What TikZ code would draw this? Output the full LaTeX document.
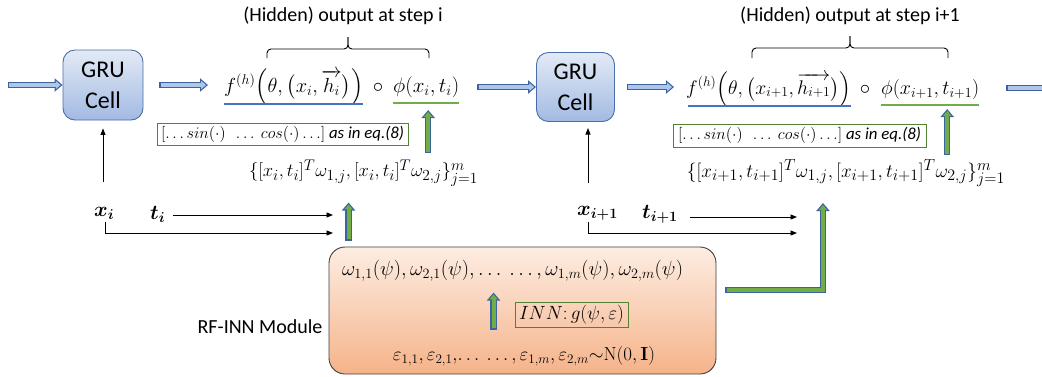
\documentclass[tikz,border=0pt]{standalone}
\usepackage{amsmath}
\usepackage{graphicx}
\usepackage[no-math]{fontspec}
\setmainfont{Carlito}
\usetikzlibrary{arrows.meta,calc}

\definecolor{grutop}{HTML}{E3EAF6}
\definecolor{grubot}{HTML}{A2BAE2}
\definecolor{gruedge}{HTML}{4A6EA9}
\definecolor{arrowedge}{HTML}{3A63A0}
\definecolor{arrowfill}{HTML}{AEC6EA}
\definecolor{gfill}{HTML}{70AD47}
\definecolor{ublue}{HTML}{4472C4}
\definecolor{ugreen}{HTML}{70AD47}
\definecolor{boxgreen}{HTML}{548235}
\definecolor{modtop}{HTML}{FDEDE2}
\definecolor{modbot}{HTML}{F5B38A}
\definecolor{modedge}{HTML}{3F3F3F}

% outlined block arrow: fill colour, path
\newcommand\blockarrow[2]{%
  \draw[line width=6.4pt, draw=arrowedge, -{Triangle[length=8pt,width=13pt]}] #2;
  \draw[line width=4pt, draw=#1, shorten <=1.2pt, shorten >=1.9pt,
        -{Triangle[length=4.9pt,width=8pt]}] #2;}
% set a formula at a given width
\newcommand\fitw[2]{\resizebox{#1}{!}{#2}}

\begin{document}
\begin{tikzpicture}[x=1pt,y=-1pt,
  lbl/.style={inner sep=0pt, font=\fontsize{20}{24}\selectfont},
  gru/.style={draw=gruedge, line width=0.9pt, rounded corners=12pt,
    top color=grutop, bottom color=grubot, align=center, inner sep=0pt,
    font=\fontsize{24}{31}\selectfont},
  mth/.style={inner sep=0pt, font=\fontsize{20}{24}\selectfont},
  varb/.style={inner sep=0pt, font=\fontsize{21}{24}\selectfont},
  greenbox/.style={draw=boxgreen, line width=0.9pt, inner sep=1pt},
  thinarrow/.style={line width=0.9pt, -{Triangle[length=6.5pt,width=5pt]}},
  brace/.style={line width=0.9pt, rounded corners=4pt},
  uline/.style={line width=1.3pt, draw=#1},
]
\useasboundingbox (0,0) rectangle (1042,376);

% ---------- RF-INN module ----------
\node[draw=modedge, line width=0.9pt, rounded corners=16pt,
      top color=modtop, bottom color=modbot,
      minimum width=387pt, minimum height=127pt] (mod) at (522.5,310.5) {};
\node[lbl] (modlbl) at (260,327) {RF-INN Module};
\node[mth] (omega) at (512.5,271)
  {\fitw{341pt}{$\omega_{1,1}(\psi),\omega_{2,1}(\psi),\ldots\ \ldots,\omega_{1,m}(\psi),\omega_{2,m}(\psi)$}};
\node[greenbox, minimum width=113pt, minimum height=25pt, font=\fontsize{19}{22}\selectfont]
  (inn) at (571.5,314.5) {\fitw{105pt}{$INN{:}\,g(\psi,\varepsilon)$}};
\node[mth] (eps) at (524,356)
  {\fitw{262pt}{$\varepsilon_{1,1},\varepsilon_{2,1},\!\ldots\ \ldots,\varepsilon_{1,m},\varepsilon_{2,m}{\sim}\mathrm{N}(0,\mathbf{I})$}};
\blockarrow{gfill}{($(mod.north west)+(165,83)$) -- ($(mod.north west)+(165,46)$)}

% ---------- step i ----------
\coordinate (in0) at (8,85);
\node[gru, minimum width=80pt, minimum height=70pt] (gru1) at (103,85) {GRU\\Cell};
\node[mth, anchor=base west] (fa1) at (224,92)
  {\fitw{139pt}{$f^{(h)}\Bigl(\theta,\bigl(x_i,\overrightarrow{h_i}\bigr)\Bigr)$}};
\node[mth, anchor=base] (o1) at (378,92) {$\circ$};
\node[mth, anchor=base west] (phi1) at (393,92) {\fitw{66pt}{$\phi(x_i,t_i)$}};
\draw[uline=ublue] ($(fa1.base west)+(0,12)$) -- ($(fa1.base east)+(0,12)$);
\draw[uline=ugreen] ($(phi1.base west)+(0,11)$) -- ($(phi1.base east)+(0,11)$);

\node[lbl] (hid1) at (343,16) {(Hidden) output at step i};
\coordinate (b1l) at (267,58);
\coordinate (b1r) at (429,58);
\coordinate (b1t) at (348,37);
\draw[brace] (b1l) -- (267,49) -- (348,49) -- (b1t);
\draw[brace] (b1r) -- (429,49) -- (348,49) -- (b1t);

\node[greenbox, minimum width=251pt, minimum height=22pt, font=\fontsize{15}{18}\selectfont]
  (sb1) at (282.5,134) {\fitw{243pt}{$[\ldots sin(\cdot)\ \ \ldots\ cos(\cdot)\ldots]$ \textit{as in eq.(8)}}};
\node[mth, font=\fontsize{19}{22}\selectfont] (feat1) at (363.5,173)
  {\fitw{229pt}{$\{[x_i,t_i]^T\omega_{1,j},[x_i,t_i]^T\omega_{2,j}\}_{j=1}^m$}};

\node[varb, anchor=west] (xi1) at (94,213) {$\boldsymbol{x}_{\boldsymbol{i}}$};
\node[varb, anchor=west] (ti1) at (150,214) {$\boldsymbol{t}_{\boldsymbol{i}}$};
\coordinate (in1t) at (333,215);
\coordinate (in1x) at (333,233);

\coordinate (gru1out) at ($(gru1.east)+(16,0)$);
\coordinate (fa1in) at ($(fa1.base west)+(-16,0)$);
\blockarrow{arrowfill}{(in0) -- (gru1.west)}
\blockarrow{arrowfill}{(gru1out) -- (fa1in |- gru1out)}
\blockarrow{gfill}{($(phi1.base)+(2,61)$) -- ($(phi1.base)+(2,18)$)}
\blockarrow{gfill}{($(mod.north west)+(20,-6)$) -- ($(mod.north west)+(20,-44)$)}
\draw[thinarrow] ($(xi1.west)+(9,-31)$) -- ($(gru1.south)+(0,8)$);
\draw[thinarrow] ($(ti1.east)+(8,1)$) -- (in1t);
\draw[thinarrow] ($(xi1.west)+(11,9)$) |- (in1x);

% ---------- step i+1 ----------
\node[gru, minimum width=78pt, minimum height=69pt] (gru2) at (575.5,87) {GRU\\Cell};
\node[mth, anchor=base west] (fa2) at (686,94)
  {\fitw{165pt}{$f^{(h)}\Bigl(\theta,\bigl(x_{i+1},\overrightarrow{h_{i+1}}\bigr)\Bigr)$}};
\node[mth, anchor=base] (o2) at (865,94) {$\circ$};
\node[mth, anchor=base west] (phi2) at (881,94) {\fitw{98pt}{$\phi(x_{i+1},t_{i+1})$}};
\draw[uline=ublue] ($(fa2.base west)+(2,12)$) -- ($(fa2.base east)+(0,12)$);
\draw[uline=ugreen] ($(phi2.base west)+(0,11)$) -- ($(phi2.base east)+(0,11)$);

\node[lbl] (hid2) at (850,16) {(Hidden) output at step i+1};
\coordinate (b2l) at (752,58);
\coordinate (b2r) at (948,58);
\coordinate (b2t) at (850,36);
\draw[brace] (b2l) -- (752,48) -- (850,48) -- (b2t);
\draw[brace] (b2r) -- (948,48) -- (850,48) -- (b2t);

\node[greenbox, minimum width=253pt, minimum height=23pt, font=\fontsize{15}{18}\selectfont]
  (sb2) at (799.5,135.5) {\fitw{243pt}{$[\ldots sin(\cdot)\ \ \ldots\ cos(\cdot)\ldots]$ \textit{as in eq.(8)}}};
\node[mth, font=\fontsize{19}{22}\selectfont] (feat2) at (846,173)
  {\fitw{318pt}{$\{[x_{i+1},t_{i+1}]^T\omega_{1,j},[x_{i+1},t_{i+1}]^T\omega_{2,j}\}_{j=1}^m$}};

\node[varb, anchor=west] (xi2) at (577,213) {$\boldsymbol{x}_{\boldsymbol{i+1}}$};
\node[varb, anchor=west] (ti2) at (642,214) {$\boldsymbol{t}_{\boldsymbol{i+1}}$};
\coordinate (in2t) at (797,217);
\coordinate (in2x) at (797,233);
\coordinate (rf2) at (823,203);
\coordinate (out2) at (1042,88);

\coordinate (phi1out) at ($(phi1.base east)+(18,0)$);
\coordinate (gru2out) at ($(gru2.east)+(12,0)$);
\coordinate (fa2in) at ($(fa2.base west)+(-12,0)$);
\coordinate (phi2out) at ($(phi2.base east)+(27,0)$);
\blockarrow{arrowfill}{(phi1out |- gru2.west) -- (gru2.west)}
\blockarrow{arrowfill}{(gru2out) -- (fa2in |- gru2out)}
\blockarrow{gfill}{($(phi2.base)+(17,61)$) -- ($(phi2.base)+(17,15)$)}
\blockarrow{gfill}{($(mod.east)+(9,-20.5)$) -| (rf2)}
\draw[line width=6.4pt, draw=arrowedge] (phi2out |- out2) -- (out2);
\draw[line width=4pt, draw=arrowfill, shorten <=1.2pt] (phi2out |- out2) -- (out2);
\draw[thinarrow] ($(xi2.west)+(11,-30)$) -- ($(xi2.west)+(11,-85)$);
\draw[thinarrow] ($(ti2.east)+(12,3)$) -- (in2t);
\draw[thinarrow] ($(xi2.west)+(11,9)$) |- (in2x);
\end{tikzpicture}
\end{document}
